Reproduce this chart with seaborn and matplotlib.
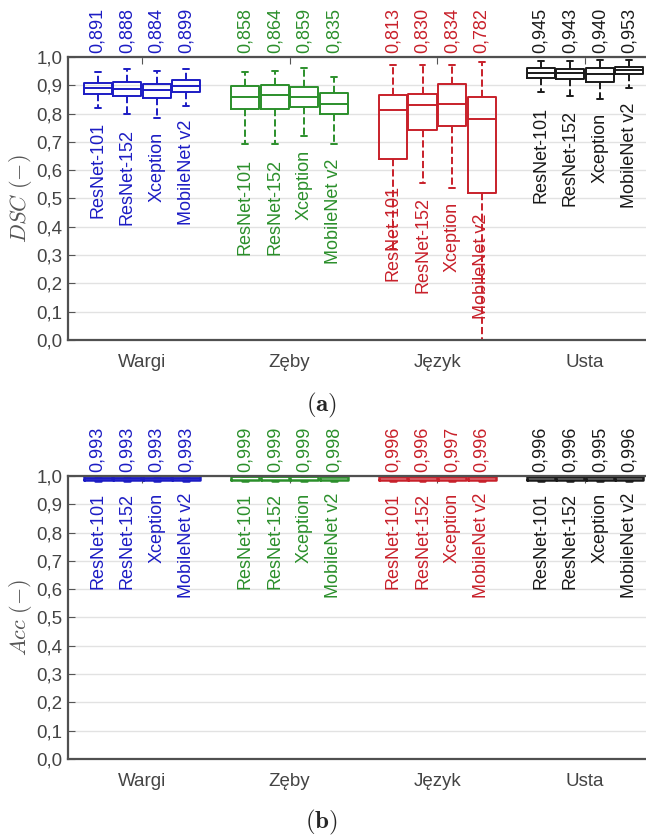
import numpy as np
import pandas as pd
import seaborn as sns
import matplotlib.pyplot as plt

groups = ["Wargi", "Zęby", "Język", "Usta"]
models = ["ResNet-101", "ResNet-152", "Xception", "MobileNet v2"]
group_colors = ["#1c1cc4", "#2b8f2b", "#c8202a", "#1a1a1a"]

# DSC five-number summaries (group-major, model-minor)
dsc_lo = [0.821, 0.797, 0.786, 0.828,
          0.691, 0.691, 0.722, 0.691,
          0.320, 0.554, 0.538, 0.000,
          0.875, 0.863, 0.852, 0.889]
dsc_q1 = [0.869, 0.863, 0.854, 0.877,
          0.815, 0.815, 0.822, 0.797,
          0.638, 0.742, 0.756, 0.518,
          0.927, 0.922, 0.913, 0.939]
dsc_med = [0.891, 0.888, 0.884, 0.899,
           0.858, 0.864, 0.859, 0.835,
           0.813, 0.830, 0.834, 0.782,
           0.945, 0.943, 0.940, 0.953]
dsc_q3 = [0.909, 0.913, 0.903, 0.919,
          0.898, 0.901, 0.895, 0.874,
          0.866, 0.869, 0.903, 0.860,
          0.962, 0.958, 0.962, 0.966]
dsc_hi = [0.948, 0.958, 0.951, 0.958,
          0.948, 0.952, 0.960, 0.930,
          0.972, 0.972, 0.972, 0.981,
          0.986, 0.986, 0.989, 0.989]

# Acc five-number summaries
acc_lo = [0.982] * 16
acc_q1 = [0.986] * 16
acc_med = [0.993, 0.993, 0.993, 0.993,
           0.999, 0.999, 0.999, 0.998,
           0.996, 0.996, 0.997, 0.996,
           0.996, 0.996, 0.995, 0.996]
acc_q3 = [0.999] * 16
acc_hi = [1.000] * 16

# hand-placed labels in the original (Język)
label_top_override = {("Język", "ResNet-101"): 0.548, ("Język", "MobileNet v2"): 0.448}


def make_df(lo, q1, med, q3, hi):
    rows = []
    k = 0
    for g in groups:
        for m in models:
            for v in (lo[k], q1[k], med[k], q3[k], hi[k]):
                rows.append({"group": g, "model": m, "value": v})
            k += 1
    return pd.DataFrame(rows)


sns.set_style("white")
plt.rcParams["font.family"] = ["Liberation Sans", "DejaVu Sans"]
plt.rcParams["mathtext.fontset"] = "cm"

fig = plt.figure(figsize=(6.46, 8.39), dpi=100)
ax_a = fig.add_axes([0.1053, 0.5948, 0.9146, 0.3373])
ax_b = fig.add_axes([0.1053, 0.0954, 0.9146, 0.3373])

panels = [
    (ax_a, (dsc_lo, dsc_q1, dsc_med, dsc_q3, dsc_hi), r"$DSC\ (-)$", 0.05, 1.4),
    (ax_b, (acc_lo, acc_q1, acc_med, acc_q3, acc_hi), r"$Acc\ (-)$", 0.042, 1.8),
]

for ax, stats, ylab, gap_lab, lw in panels:
    df = make_df(*stats)
    lo, med = stats[0], stats[2]
    for gi, g in enumerate(groups):
        col = group_colors[gi]
        sns.boxplot(data=df[df["group"] == g], x="group", y="value", hue="model",
                    order=groups, hue_order=models, whis=(0, 100), fill=False,
                    palette={m: col for m in models}, gap=0.05, linewidth=lw,
                    whiskerprops={"linestyle": "--"}, capwidths=0.04,
                    legend=False, ax=ax)
        for mj, m in enumerate(models):
            k = gi * 4 + mj
            xpos = gi + (mj - 1.5) * 0.2
            ax.text(xpos, 1.015, f"{med[k]:.3f}".replace(".", ","), rotation=90,
                    ha="center", va="bottom", color=col, fontsize=13)
            ytop = lo[k] - gap_lab
            if ax is ax_a:
                ytop = label_top_override.get((g, m), ytop)
            ax.text(xpos, ytop, m, rotation=90, ha="center", va="top",
                    color=col, fontsize=13)

    ax.set_xlim(-0.5, 3.5)
    ax.set_ylim(0, 1)
    yt = np.round(np.arange(0, 1.01, 0.1), 1)
    ax.set_yticks(yt)
    ax.set_yticklabels([f"{t:.1f}".replace(".", ",") for t in yt])
    ax.set_xticks(range(len(groups)))
    ax.set_xticklabels(groups)
    ax.set_xlabel("")
    ax.set_ylabel(ylab, fontsize=16, color="#555555", labelpad=2)
    ax.yaxis.grid(True, color="#e2e2e2", lw=1)
    ax.xaxis.grid(False)
    ax.set_axisbelow(True)
    for s in ["left", "bottom", "top"]:
        ax.spines[s].set_color("#505050")
        ax.spines[s].set_linewidth(1.6)
    ax.spines["right"].set_visible(False)
    ax.tick_params(axis="both", direction="in", length=5, color="#555555",
                   labelsize=13.5, labelcolor="#444444")
    ax.tick_params(axis="x", top=True, pad=10)
    ax.tick_params(axis="y", left=True, pad=4)

fig.text(0.497, 0.517, r"$\mathbf{(a)}$", ha="center", va="center", fontsize=18)
fig.text(0.497, 0.020, r"$\mathbf{(b)}$", ha="center", va="center", fontsize=18)

fig.savefig("out.png", dpi=100)
